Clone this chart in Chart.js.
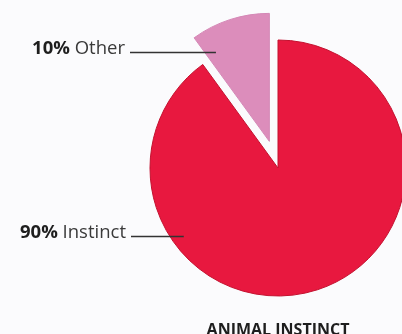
<!DOCTYPE html>
<html>
<head>
<meta charset="utf-8">
<script src="https://cdn.jsdelivr.net/npm/chart.js@4/dist/chart.umd.min.js"></script>
<style>
  html, body { margin: 0; padding: 0; background: #fbfbfd; overflow: hidden; }
  #wrap { position: relative; width: 402px; height: 334px; }
</style>
</head>
<body>
<div id="wrap"><canvas id="chart-instinct"></canvas></div>
<script>
// data
const categories = ['Instinct', 'Other'];
const shares = [90, 10];
const sliceColors = ['#e8183f', '#dc8dbb'];
const sliceBorders = ['#c3112f', '#d488b6'];
const explodeBy = [0, 28];

// pull a slice straight out along its mid angle (plain translation, no resizing)
function sliceShift(arc, dist) {
    const half = (arc.startAngle + arc.endAngle) / 2;
    return { dx: Math.cos(half) * dist, dy: Math.sin(half) * dist };
}

const explodeSlices = {
    id: 'explodeSlices',
    afterUpdate(chart) {
        chart.getDatasetMeta(0).data.forEach((arc, i) => {
            if (!explodeBy[i] || arc._wrapped) return;
            const baseDraw = arc.draw;
            arc.draw = function (c) {
                const s = sliceShift(this, explodeBy[i]);
                c.save();
                c.translate(s.dx, s.dy);
                baseDraw.call(this, c);
                c.restore();
            };
            arc._wrapped = true;
        });
    }
};

// leader labels: bold percentage + label, line drawn into the slice
const leaderLabels = {
    id: 'leaderLabels',
    afterDatasetsDraw(chart) {
        const ctx = chart.ctx;
        const arcs = chart.getDatasetMeta(0).data;
        // angle (deg, canvas coords) and radius fraction where each line ends
        const anchors = [
            { angle: 144, frac: 0.91, lineStart: 131 },
            { angle: -121, frac: 0.81, lineStart: 130 }
        ];
        arcs.forEach((arc, i) => {
            const a = anchors[i];
            const rad = a.angle * Math.PI / 180;
            const s = sliceShift(arc, explodeBy[i]);
            const cx = arc.x + s.dx, cy = arc.y + s.dy;
            const ex = cx + Math.cos(rad) * arc.outerRadius * a.frac;
            const ey = Math.round(cy + Math.sin(rad) * arc.outerRadius * a.frac) + 0.5;

            ctx.save();
            ctx.strokeStyle = '#333';
            ctx.lineWidth = 1.4;
            ctx.beginPath();
            ctx.moveTo(a.lineStart, ey);
            ctx.lineTo(ex, ey);
            ctx.stroke();

            const pct = shares[i] + '%';
            const name = ' ' + categories[i];
            ctx.textBaseline = 'alphabetic';
            ctx.font = '18.5px "Open Sans"';
            const wName = ctx.measureText(name).width;
            const right = a.lineStart - 5;
            ctx.fillStyle = '#3a3a3a';
            ctx.textAlign = 'right';
            ctx.fillText(name, right, ey + 1);
            ctx.font = 'bold 18.5px "Open Sans"';
            ctx.fillStyle = '#1e1e1e';
            ctx.fillText(pct, right - wName, ey + 1);
            ctx.restore();
        });
    }
};

let ctx = document.getElementById('chart-instinct').getContext('2d');

let instinctChart = new Chart(ctx, {
    type: 'pie',
    data: {
        labels: categories,
        datasets: [{
            data: shares,
            backgroundColor: sliceColors,
            borderColor: sliceBorders,
            borderWidth: 1,
            radius: 128,
            clip: false
        }]
    },
    options: {
        responsive: true,
        maintainAspectRatio: false,
        animation: false,
        layout: {
            padding: { left: 154, right: 0, top: 20, bottom: 0 }
        },
        plugins: {
            legend: { display: false },
            tooltip: { enabled: false },
            title: {
                display: true,
                text: 'ANIMAL INSTINCT',
                position: 'bottom',
                fullSize: false,
                color: '#1e1e1e',
                font: { family: '"Open Sans"', size: 16, weight: 'bold', lineHeight: 0.5 },
                padding: { top: 10, bottom: 0 }
            }
        }
    },
    plugins: [explodeSlices, leaderLabels]
});
</script>
</body>
</html>
